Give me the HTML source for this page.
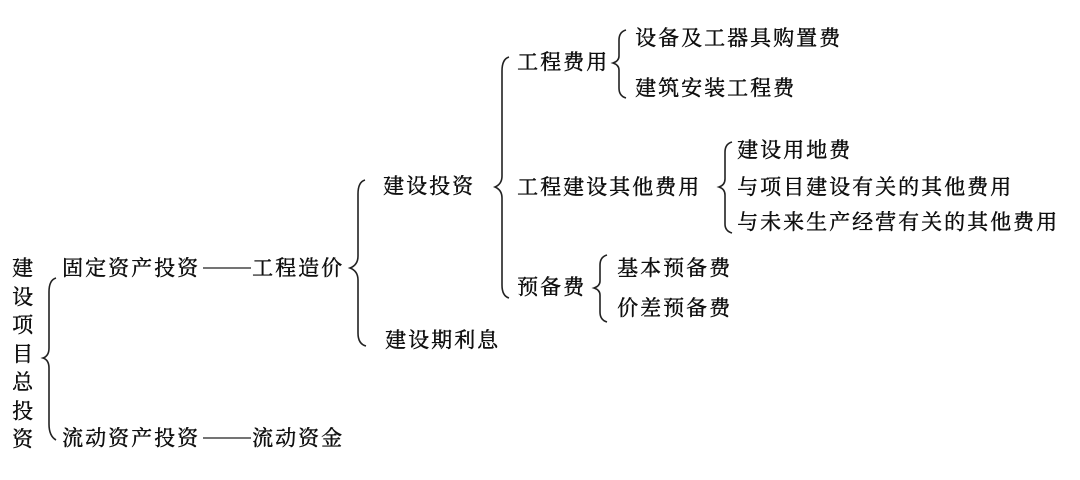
<!DOCTYPE html>
<html><head><meta charset="utf-8"><style>
html,body{margin:0;padding:0;background:#fff;}
#c{position:relative;width:1080px;height:480px;overflow:hidden;font-family:"Liberation Serif","Noto Serif CJK SC","Noto Sans CJK SC",serif;color:#111;}
.t{position:absolute;font-size:21px;line-height:24px;white-space:nowrap;letter-spacing:2px;text-shadow:0.4px 0 0 #111,0 0.4px 0 #111;}
svg{position:absolute;left:0;top:0;}
</style></head><body><div id="c">
<svg width="1080" height="480" fill="none" stroke="#222" stroke-width="1.6">
<path d="M56,278 Q49,280 49,292 L49,348 Q49,356 43,358 Q49,360 49,368 L49,424 Q49,436 56,440"/>
<path d="M365,180 Q358,182 358,194 L358,256 Q358,265 350,268 Q358,271 358,280 L358,333 Q358,344 366,346"/>
<path d="M509,57 Q502,59 502,71 L502,176 Q502,184 495,187 Q502,190 502,198 L502,285 Q502,296 509,298"/>
<path d="M626,30 Q619,32 619,40 L619,56 Q619,61 613,63 Q619,65 619,70 L619,88 Q619,96 626,98"/>
<path d="M732,142 Q725,144 725,152 L725,179 Q725,185 719,187 Q725,189 725,195 L725,224 Q725,231 732,233"/>
<path d="M607,255 Q600,257 600,265 L600,281 Q600,286 594,288 Q600,290 600,295 L600,312 Q600,320 607,322"/>
<line x1="203" y1="268" x2="251" y2="268" stroke-width="1.3"/>
<line x1="203" y1="438" x2="251" y2="438" stroke-width="1.3"/>
</svg>
<div class="t" style="left:12px;top:254px;width:24px;line-height:28.5px;white-space:normal;letter-spacing:0;">建设项目总投资</div>
<div class="t" style="left:62px;top:256px;">固定资产投资</div>
<div class="t" style="left:252px;top:256px;">工程造价</div>
<div class="t" style="left:62px;top:426px;">流动资产投资</div>
<div class="t" style="left:252px;top:426px;">流动资金</div>
<div class="t" style="left:383px;top:174px;">建设投资</div>
<div class="t" style="left:385px;top:328px;">建设期利息</div>
<div class="t" style="left:517px;top:50px;">工程费用</div>
<div class="t" style="left:635px;top:26px;">设备及工器具购置费</div>
<div class="t" style="left:635px;top:76px;">建筑安装工程费</div>
<div class="t" style="left:517px;top:175px;">工程建设其他费用</div>
<div class="t" style="left:737px;top:138px;">建设用地费</div>
<div class="t" style="left:737px;top:175px;">与项目建设有关的其他费用</div>
<div class="t" style="left:737px;top:210px;">与未来生产经营有关的其他费用</div>
<div class="t" style="left:517px;top:275px;">预备费</div>
<div class="t" style="left:617px;top:256px;">基本预备费</div>
<div class="t" style="left:617px;top:296px;">价差预备费</div>
</div></body></html>
